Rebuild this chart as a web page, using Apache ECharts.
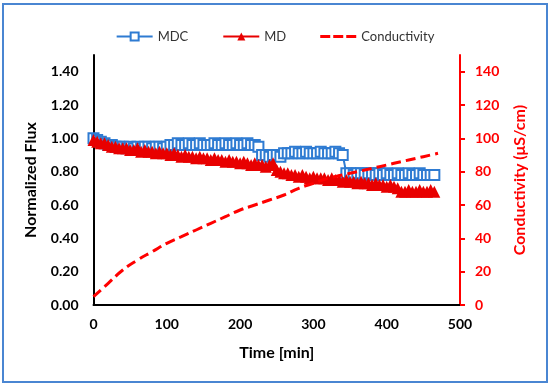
<!DOCTYPE html>
<html>
<head>
<meta charset="utf-8">
<script src="https://cdn.jsdelivr.net/npm/echarts@6/dist/echarts.min.js"></script>
<style>
html,body{margin:0;padding:0;background:#fff;}
#chart{width:550px;height:385px;}
</style>
</head>
<body>
<div id="chart"></div>
<script>
// ---- data ----
var fluxTimes = [0,5,10,15,20,25,30,35,40,45,50,55,60,65,70,75,80,85,90,95,100,105,110,115,120,125,130,135,140,145,150,155,160,165,170,175,180,185,190,195,200,205,210,215,220,225,230,235,240,245,250,255,260,265,270,275,280,285,290,295,300,305,310,315,320,325,330,335,340,345,350,355,360,365,370,375,380,385,390,395,400,405,410,415,420,425,430,435,440,445,450,455,460,465];
var mdcFlux = [1.00,0.99,0.98,0.97,0.96,0.96,0.95,0.95,0.95,0.94,0.95,0.94,0.95,0.94,0.95,0.95,0.94,0.95,0.95,0.94,0.95,0.96,0.96,0.97,0.96,0.96,0.97,0.96,0.96,0.97,0.96,0.96,0.96,0.97,0.96,0.96,0.97,0.96,0.96,0.97,0.96,0.96,0.97,0.96,0.96,0.95,0.90,0.90,0.89,0.90,0.90,0.89,0.91,0.91,0.91,0.92,0.91,0.91,0.92,0.91,0.91,0.91,0.92,0.91,0.91,0.91,0.92,0.91,0.90,0.79,0.79,0.78,0.79,0.79,0.78,0.79,0.79,0.78,0.79,0.78,0.79,0.78,0.78,0.79,0.78,0.78,0.79,0.78,0.78,0.79,0.78,0.78,0.78,0.78];
var mdFlux = [0.99,0.98,0.97,0.97,0.96,0.95,0.95,0.94,0.94,0.94,0.93,0.93,0.94,0.92,0.93,0.92,0.92,0.91,0.92,0.91,0.91,0.90,0.91,0.90,0.89,0.90,0.89,0.89,0.88,0.89,0.88,0.88,0.87,0.88,0.87,0.87,0.86,0.87,0.86,0.86,0.85,0.86,0.85,0.84,0.85,0.84,0.84,0.83,0.84,0.85,0.81,0.80,0.79,0.79,0.78,0.78,0.77,0.78,0.77,0.76,0.77,0.76,0.76,0.76,0.75,0.76,0.75,0.75,0.74,0.75,0.74,0.74,0.73,0.74,0.73,0.73,0.72,0.73,0.72,0.72,0.71,0.72,0.71,0.70,0.68,0.68,0.69,0.68,0.68,0.69,0.68,0.68,0.69,0.68];
var condTimes = [0,20,40,60,80,100,120,140,160,180,200,220,240,260,280,300,320,340,360,380,400,420,440,460,470];
var conductivity = [5,13,21,27,32,37,41,45,49,53,57,60,63,66,70,73,76,78,80,82,84,86,88,90,91];
var xTicks = [0,100,200,300,400,500];
var leftTicks = [0,0.2,0.4,0.6,0.8,1.0,1.2,1.4];
var rightTicks = [0,20,40,60,80,100,120,140];
var seriesNames = ['MDC','MD','Conductivity'];

function pairs(xs, ys){ return xs.map(function(x,i){ return [x, ys[i]]; }); }

var FONT = 'Lato, "Liberation Sans", sans-serif';
var dashIcon = 'path://M0,0h0.01v0.01h-0.01z M0,3.5h10v3h-10z M13,3.5h10v3h-10z M26,3.5h10v3h-10z M36,10h0.01v-0.01h-0.01z';
var chart = echarts.init(document.getElementById('chart'), null, {renderer:'canvas'});
chart.setOption({
  animation:false,
  backgroundColor:'#ffffff',
  graphic:[{
    type:'rect', shape:{x:3,y:4,width:544,height:378},
    style:{fill:'none', stroke:'#4A86D2', lineWidth:2}, silent:true, z:-1
  }],
  legend:{
    top:25, left:'center',
    itemWidth:36, itemHeight:10, itemGap:34,
    textStyle:{fontFamily:FONT, fontSize:13, color:'#333'},
    data:[seriesNames[0], seriesNames[1], {name:seriesNames[2], icon:dashIcon}]
  },
  grid:{left:93.5, right:90, top:55, bottom:80},
  xAxis:{
    type:'value', min:0, max:500, interval:100,
    name:'Time [min]', nameLocation:'middle', nameGap:40,
    nameTextStyle:{fontFamily:FONT, fontSize:16, fontWeight:'bold', color:'#000'},
    axisLine:{lineStyle:{color:'#000', width:2}},
    axisTick:{show:false},
    axisLabel:{fontFamily:FONT, fontSize:14, fontWeight:'bold', color:'#000', margin:12, customValues:xTicks},
    splitLine:{show:false}
  },
  yAxis:[{
    type:'value', min:0, max:1.5, interval:0.1,
    name:'Normalized Flux', nameLocation:'middle', nameGap:55,
    nameTextStyle:{fontFamily:FONT, fontSize:16, fontWeight:'bold', color:'#000'},
    axisLine:{show:true, lineStyle:{color:'#000', width:2}},
    axisTick:{show:false},
    axisLabel:{fontFamily:FONT, fontSize:14, fontWeight:'bold', color:'#000', margin:15,
      customValues:leftTicks, formatter:function(v){return v.toFixed(2);}},
    splitLine:{show:false}
  },{
    type:'value', min:0, max:150, interval:10, position:'right',
    name:'Conductivity (μS/cm)', nameLocation:'middle', nameGap:52,
    nameTextStyle:{fontFamily:FONT, fontSize:16, fontWeight:'bold', color:'#FF0000'},
    axisLine:{show:true, lineStyle:{color:'#FF0000', width:2}},
    axisTick:{show:true, length:5, lineStyle:{color:'#FF0000', width:2}, customValues:rightTicks},
    axisLabel:{fontFamily:FONT, fontSize:14, fontWeight:'bold', color:'#FF0000', margin:15, customValues:rightTicks},
    splitLine:{show:false}
  }],
  series:[{
    name:seriesNames[0], type:'line', yAxisIndex:0,
    data:pairs(fluxTimes, mdcFlux),
    symbol:'emptyRect', symbolSize:10,
    lineStyle:{color:'#2E7BD2', width:2},
    itemStyle:{color:'#2E7BD2', borderColor:'#2E7BD2', borderWidth:2},
    z:2
  },{
    name:seriesNames[1], type:'line', yAxisIndex:0,
    data:pairs(fluxTimes, mdFlux),
    symbol:'triangle', symbolSize:12,
    lineStyle:{color:'#E80000', width:2},
    itemStyle:{color:'#E80000'},
    z:3
  },{
    name:seriesNames[2], type:'line', yAxisIndex:1,
    data:pairs(condTimes, conductivity),
    symbol:'none', smooth:true,
    lineStyle:{color:'#FF0000', width:3, type:[10,5]},
    itemStyle:{color:'#FF0000'},
    z:4
  }]
});
</script>
</body>
</html>
